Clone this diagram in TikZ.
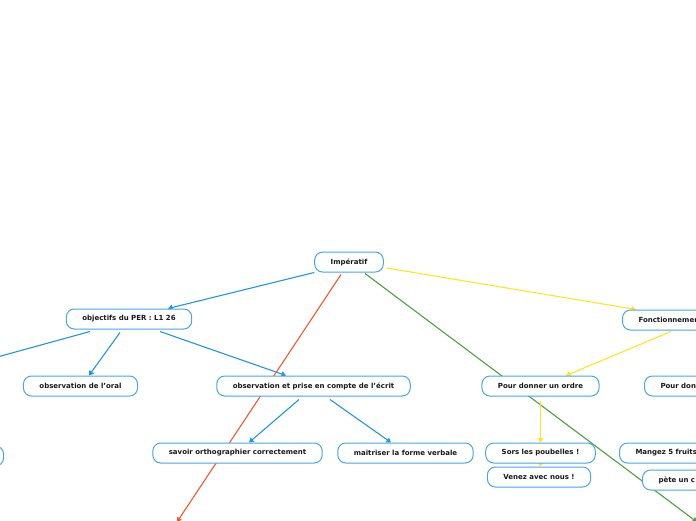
\documentclass[tikz,border=0pt]{standalone}
\usepackage{fontspec}
\setmainfont{DejaVu Sans}
\usetikzlibrary{arrows.meta,backgrounds}

\definecolor{mapblue}{RGB}{33,150,224}
\definecolor{boxblue}{RGB}{70,166,232}
\definecolor{mapred}{RGB}{240,90,40}
\definecolor{mapgreen}{RGB}{80,160,64}
\definecolor{mapyellow}{RGB}{255,228,30}

\tikzset{
  topic/.style={draw=boxblue, line width=1pt, fill=white, rounded corners=8pt,
    minimum height=20pt, inner xsep=16pt, inner ysep=0pt, text=black!90,
    font=\fontsize{7}{8}\selectfont\bfseries},
  cuttopic/.style={topic, anchor=west, text width=120pt, align=left},
  link/.style={line width=1.1pt, -{Triangle[width=5.5pt,length=4.5pt]}}
}

\begin{document}
\begin{tikzpicture}[x=1pt, y=-1pt]
    % page size of the reference
    \useasboundingbox (0,0) rectangle (696,520);
    \clip (0,0) rectangle (696,520);

    % central topic
    \node[topic] (imp) at (349,262) {Impératif};

    % left branch
    \node[topic] (obj) at (129,319) {objectifs du PER : L1 26};
    \node[topic] (oral) at (80.5,386) {observation de l'oral};
    \node[topic] (ecrit) at (313.5,386) {observation et prise en compte de l'écrit};
    \node[topic] (ortho) at (237.5,453) {savoir orthographier correctement};
    \node[topic] (verbe) at (405.5,453) {maitriser la forme verbale};
    \node[topic, minimum width=90pt, anchor=east] (gauche) at (4,456) {};

    % right branch (cut at the page edge)
    \node[cuttopic] (fonc) at (622,320) {Fonctionnement};
    \node[topic] (ordre) at (540.5,386) {Pour donner un ordre};
    \node[cuttopic] (donner) at (644,386) {Pour donner};
    \node[topic] (sors) at (540.5,453) {Sors les poubelles !};
    \node[topic] (venez) at (539,477) {Venez avec nous !};
    \node[cuttopic] (mangez) at (619,453) {Mangez 5 fruits};
    \node[cuttopic] (pete) at (642,480) {pète un c};

    % free ends outside the page
    \coordinate (redend) at (177,522);
    \coordinate (greenend) at (697,522);
    \coordinate (leftend) at (-10,359);

    \begin{pgfonlayer}{background}
    % blue links
    \draw[link, mapblue] (imp.south west) -- ([xshift=39pt]obj.north);
    \draw[link, mapblue] ([xshift=-39pt,yshift=-2pt]obj.south) -- (leftend);
    \draw[link, mapblue] ([xshift=-9pt,yshift=-3pt]obj.south) -- ([xshift=8.5pt]oral.north);
    \draw[link, mapblue] ([xshift=31pt,yshift=-2pt]obj.south) -- ([xshift=-27.5pt]ecrit.north);
    \draw[link, mapblue] ([xshift=-14.5pt,yshift=-3pt]ecrit.south) -- ([xshift=11.5pt]ortho.north);
    \draw[link, mapblue] ([xshift=16.5pt,yshift=-3pt]ecrit.south) -- ([xshift=-14.5pt]verbe.north);

    % red and green links
    \draw[link, mapred] ([xshift=-8pt,yshift=-2pt]imp.south) -- (redend);
    \draw[link, mapgreen] ([xshift=16pt,yshift=-1pt]imp.south) -- (greenend);

    % yellow links
    \draw[link, mapyellow] ([xshift=3pt,yshift=-6pt]imp.east) -- ([xshift=14pt]fonc.north west);
    \draw[link, mapyellow] ([xshift=49pt,yshift=-1pt]fonc.south west) -- ([xshift=25.5pt]ordre.north);
    \draw[link, mapyellow] ([yshift=-4pt]ordre.south) -- (sors.north);
    \draw[link, mapyellow] (sors.south) -- (venez.north);
    \end{pgfonlayer}
\end{tikzpicture}
\end{document}
